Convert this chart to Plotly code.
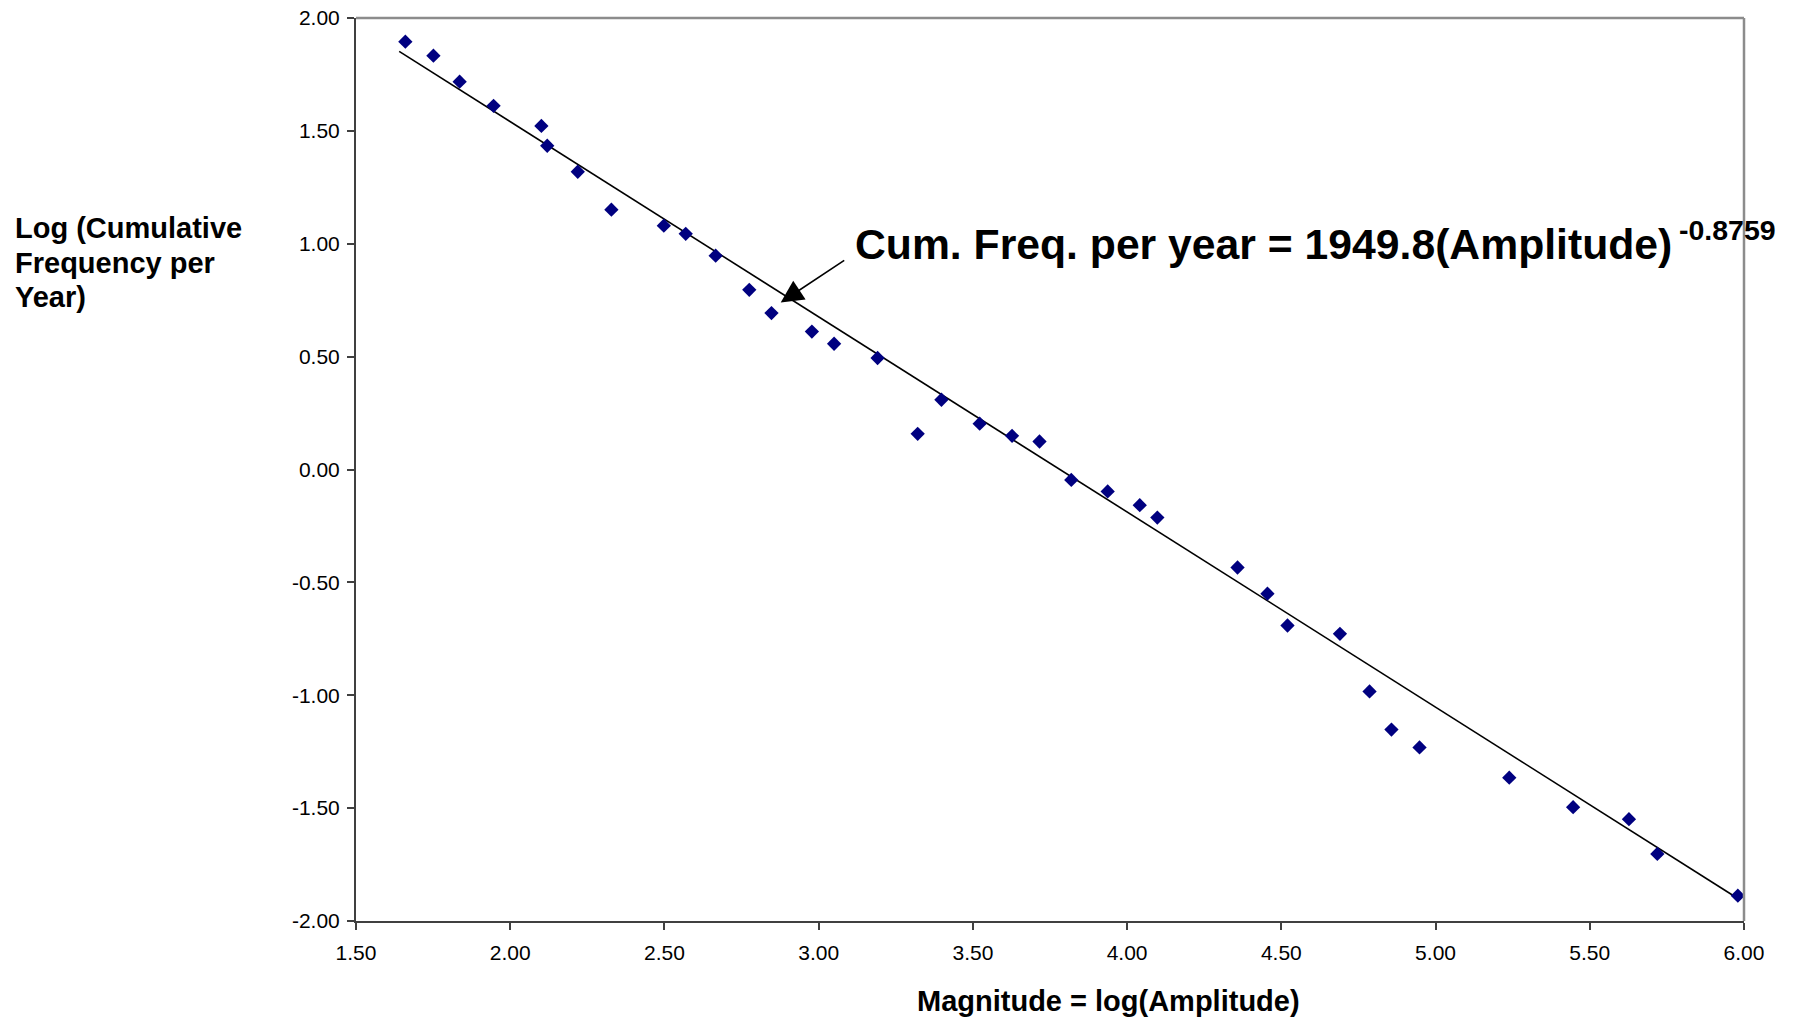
import plotly.graph_objects as go

# ---- data ----
magnitude = [1.660, 1.751, 1.836, 1.946, 2.101, 2.120, 2.219, 2.328, 2.498, 2.569,
             2.666, 2.775, 2.847, 2.978, 3.050, 3.191, 3.321, 3.398, 3.522, 3.627,
             3.716, 3.819, 3.937, 4.041, 4.098, 4.358, 4.455, 4.520, 4.690, 4.786,
             4.857, 4.948, 5.239, 5.446, 5.627, 5.719, 5.980]
log_cum_freq = [1.895, 1.833, 1.718, 1.611, 1.522, 1.434, 1.319, 1.151, 1.080, 1.044,
                0.947, 0.796, 0.693, 0.611, 0.557, 0.494, 0.158, 0.309, 0.203, 0.149,
                0.124, -0.046, -0.097, -0.158, -0.213, -0.434, -0.550, -0.691, -0.728, -0.983,
                -1.152, -1.231, -1.365, -1.496, -1.549, -1.703, -1.888]

# fitted trend line (end points)
trend_x = [1.640, 5.979]
trend_y = [1.852, -1.899]

x_tick_vals = [1.5, 2.0, 2.5, 3.0, 3.5, 4.0, 4.5, 5.0, 5.5, 6.0]
x_tick_text = ["1.50", "2.00", "2.50", "3.00", "3.50", "4.00", "4.50", "5.00", "5.50", "6.00"]
y_tick_vals = [2.0, 1.5, 1.0, 0.5, 0.0, -0.5, -1.0, -1.5, -2.0]
y_tick_text = ["2.00", "1.50", "1.00", "0.50", "0.00", "-0.50", "-1.00", "-1.50", "-2.00"]

y_title_lines = ["Log (Cumulative", "Frequency per", "Year)"]

FONT = "Liberation Sans, Arial, sans-serif"
AXIS_COLOR = "#404040"
BORDER_COLOR = "#8c8c8c"

fig = go.Figure()

fig.add_trace(go.Scatter(
    x=trend_x, y=trend_y, mode="lines",
    line=dict(color="black", width=1.6),
    hoverinfo="skip", showlegend=False,
))

fig.add_trace(go.Scatter(
    x=magnitude, y=log_cum_freq, mode="markers",
    marker=dict(symbol="diamond", size=11, color="#000080", line=dict(width=0)),
    showlegend=False,
))

annotations = []
for line_text, ypos in zip(y_title_lines, [0.7669, 0.7287, 0.6910]):
    annotations.append(dict(
        xref="paper", yref="paper", x=-0.2471, y=ypos,
        xanchor="left", yanchor="middle", align="left", showarrow=False,
        text="<b>" + line_text + "</b>",
        font=dict(family=FONT, size=29, color="black")))

annotations += [
    # x-axis title
    dict(xref="paper", yref="paper", x=0.5425, y=-0.0886,
         xanchor="center", yanchor="middle", showarrow=False,
         text="<b>Magnitude = log(Amplitude)</b>",
         font=dict(family=FONT, size=29, color="black")),
    # equation
    dict(xref="x", yref="y", x=3.112, y=0.997,
         xanchor="left", yanchor="middle", showarrow=False,
         text="<b>Cum. Freq. per year = 1949.8(Amplitude)</b>",
         font=dict(family=FONT, size=42.7, color="black")),
    dict(xref="x", yref="y", x=5.782, y=1.063,
         xanchor="left", yanchor="middle", showarrow=False,
         text="<b>-0.8759</b>",
         font=dict(family=FONT, size=28.5, color="black")),
    # arrow
    dict(xref="x", yref="y", x=2.877, y=0.740, text="",
         showarrow=True, arrowhead=2, arrowsize=2.8, arrowwidth=1.6,
         arrowcolor="black", ax=65, ay=-43, standoff=0),
]

# page body has an 8px margin, so the figure is placed to compensate
fig.update_layout(
    width=1792, height=1014,
    margin=dict(l=348, r=56, t=10, b=101, autoexpand=False),
    paper_bgcolor="white", plot_bgcolor="white",
    font=dict(family=FONT, color="black"),
    xaxis=dict(
        range=[1.5, 6.0], tickvals=x_tick_vals, ticktext=x_tick_text,
        showgrid=False, zeroline=False, automargin=False,
        showline=True, linecolor=AXIS_COLOR, linewidth=2,
        ticks="outside", ticklen=7, tickwidth=1.5, tickcolor=AXIS_COLOR,
        tickfont=dict(family=FONT, size=21, color="black"),
        ticklabelstandoff=5,
    ),
    yaxis=dict(
        range=[-2.0, 2.0], tickvals=y_tick_vals, ticktext=y_tick_text,
        showgrid=False, zeroline=False, automargin=False,
        showline=True, linecolor=AXIS_COLOR, linewidth=2,
        ticks="outside", ticklen=7, tickwidth=1.5, tickcolor=AXIS_COLOR,
        tickfont=dict(family=FONT, size=21, color="black"),
        ticklabelstandoff=3, ticklabeloverflow="allow",
    ),
    shapes=[
        dict(type="line", xref="paper", yref="paper", x0=0, x1=1, y0=1, y1=1,
             line=dict(color=BORDER_COLOR, width=2.5)),
        dict(type="line", xref="paper", yref="paper", x0=1, x1=1, y0=0, y1=1,
             line=dict(color=BORDER_COLOR, width=2.5)),
    ],
    annotations=annotations,
)

fig.write_html("out.html")
